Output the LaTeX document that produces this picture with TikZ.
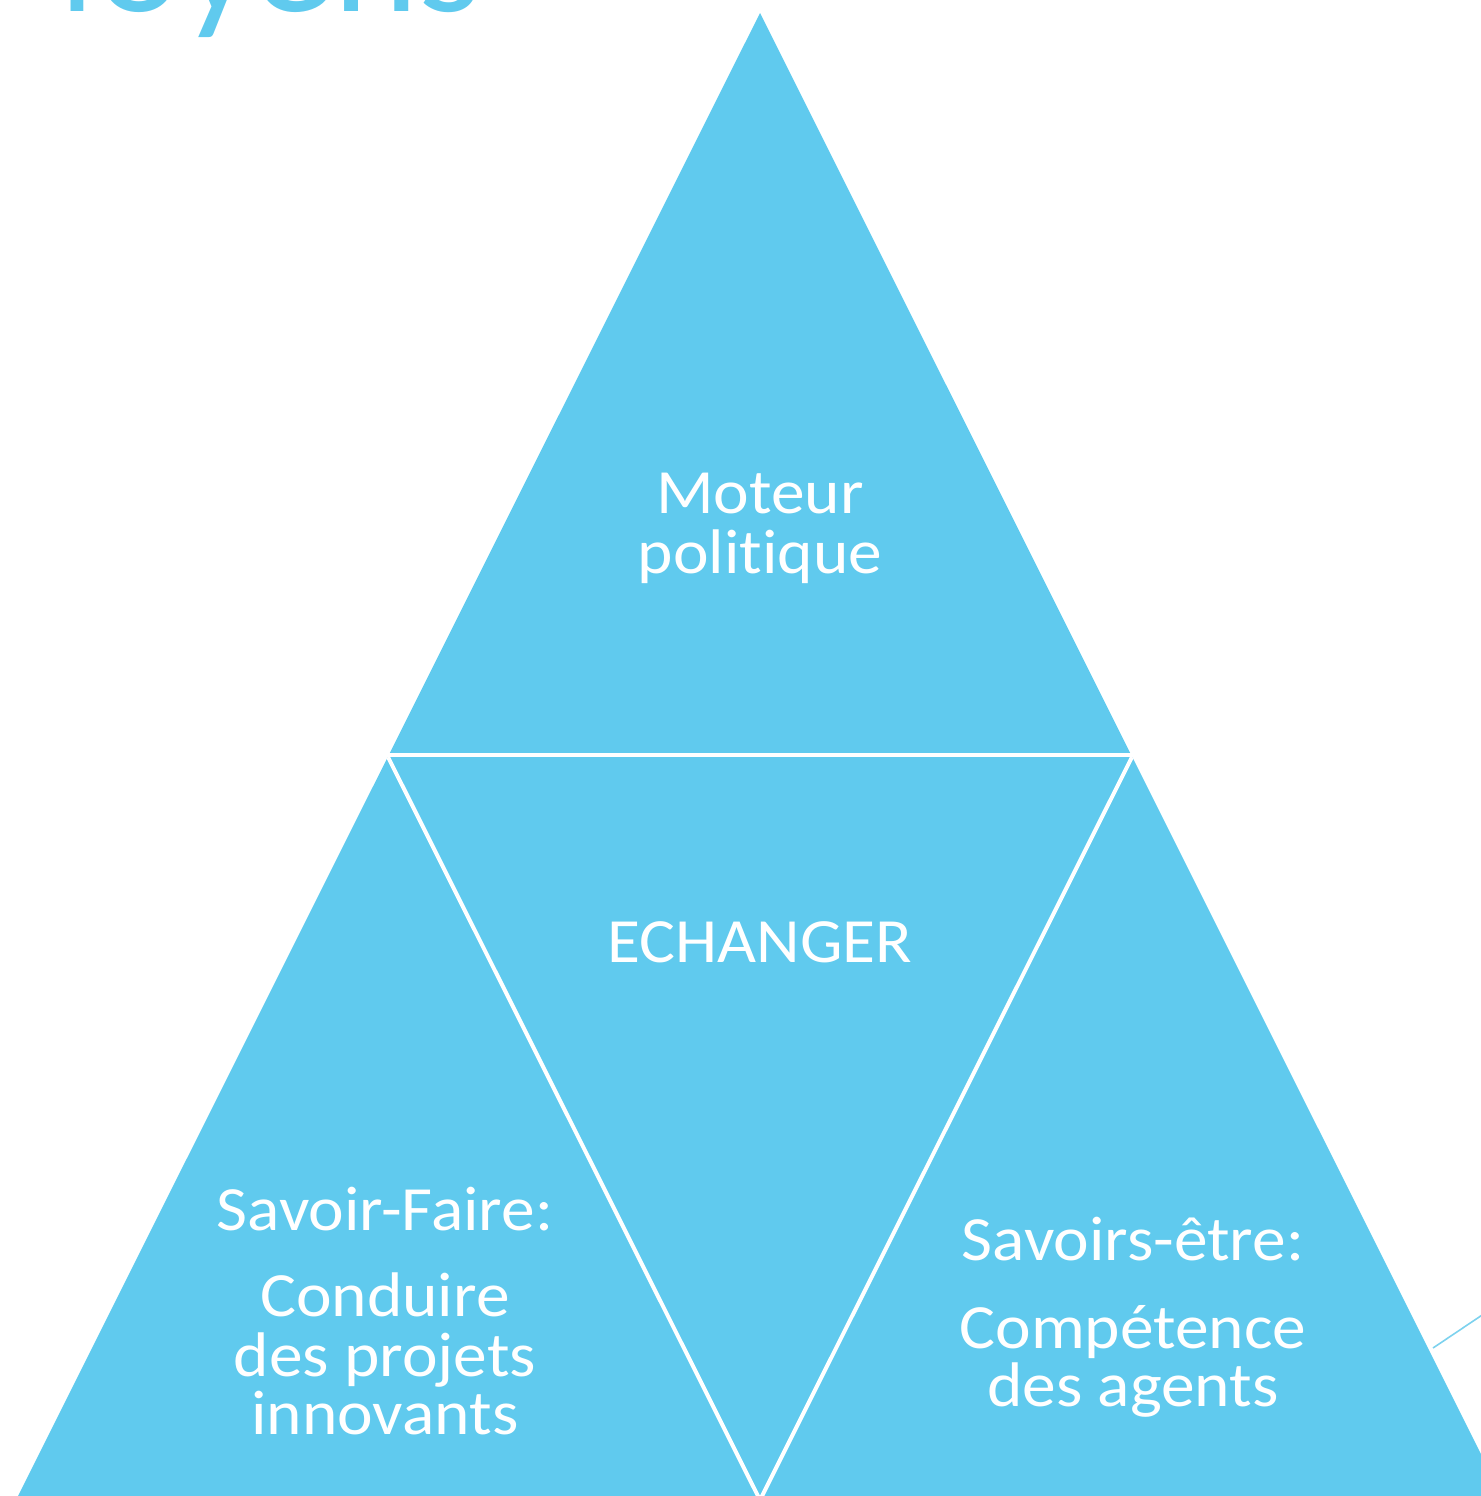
\documentclass[tikz,border=0pt]{standalone}
\usepackage{fontspec}
\setmainfont{Carlito}[Ligatures={NoCommon}]
\newfontfamily\lblfont{Carlito}[Ligatures={NoCommon},FakeStretch=1.07]
\definecolor{tri}{RGB}{96,202,238}
\definecolor{thinline}{RGB}{125,210,238}
\begin{document}
\begin{tikzpicture}[x=0.5pt,y=-0.5pt,
  lbl/.style={text=white,font=\lblfont\fontsize{31.5}{31.5}\selectfont,anchor=base,inner sep=0pt},
  sep/.style={draw=white,line width=2pt},
  titlestyle/.style={text=tri,font=\fontsize{81}{81}\selectfont,anchor=base east,inner sep=0pt}]
\useasboundingbox (0,0) rectangle (1481,1496);
% big triangle
\coordinate (A) at (760,13);
\coordinate (BL) at (16,1500);
\coordinate (BR) at (1504,1500);
\fill[tri] (A) -- (BL) -- (BR) -- cycle;
% white separators
\coordinate (HL) at (360,755);
\coordinate (HR) at (1160,755);
\coordinate (ML) at (388,757);
\coordinate (MR) at (1132,757);
\coordinate (MB) at (760,1500);
\draw[sep] (HL) -- (HR);
\draw[sep] (ML) -- (MB);
\draw[sep] (MR) -- (MB);
% thin connector at right
\coordinate (T1) at (1433,1348);
\coordinate (T2) at (1500,1303);
\draw[thinline,line width=0.8pt] (T1) -- (T2);
% title fragment
\node[titlestyle] (title) at (482,11) {Moyens};
% labels
\node[lbl] (mot1) at (760,513) {Moteur};
\node[lbl] (mot2) at (760,573) {politique};
\node[lbl] (ech) at (760,962) {ECHANGER};
\node[lbl] (sf1) at (385,1230) {Savoir-Faire:};
\node[lbl] (sf2) at (385,1316) {Conduire};
\node[lbl] (sf3) at (385,1376) {des projets};
\node[lbl] (sf4) at (385,1434) {innovants};
\node[lbl] (se1) at (1133,1260) {Savoirs-être:};
\node[lbl] (se2) at (1133,1348) {Compétence};
\node[lbl] (se3) at (1133,1406) {des agents};
\end{tikzpicture}
\end{document}
